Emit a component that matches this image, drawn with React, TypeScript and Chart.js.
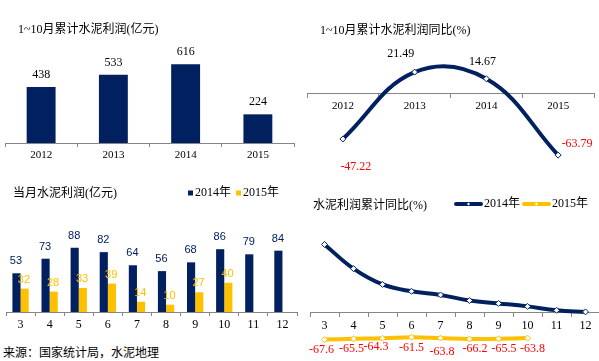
import React, { useEffect, useRef } from 'react';
import { Chart, registerables } from 'chart.js';

Chart.register(...registerables);

// ---------- data ----------
const years = ['2012', '2013', '2014', '2015'];
const cumProfit = [438, 533, 616, 224];
const cumProfitYoY = [-47.22, 21.49, 14.67, -63.79];

const months = ['3', '4', '5', '6', '7', '8', '9', '10', '11', '12'];
const seriesNames = ['2014年', '2015年'];
const monthly2014 = [53, 73, 88, 82, 64, 56, 68, 86, 79, 84];
const monthly2015 = [32, 28, 33, 39, 14, 10, 27, 40, null, null];
const cumYoY2014 = [168, 108, 69, 52, 43, 29, 22, 14.67, 5, 1];
const cumYoY2015 = [-67.6, -65.5, -64.3, -61.5, -63.8, -66.2, -65.5, -63.8, null, null];

const titleA = '1~10月累计水泥利润(亿元)';
const titleB = '1~10月累计水泥利润同比(%)';
const titleC = '当月水泥利润(亿元)';
const titleD = '水泥利润累计同比(%)';
const sourceText = '来源：国家统计局，水泥地理';

// ---------- styles ----------
const NAVY = '#002060';
const GOLD = '#FFC000';
const RED = '#FF0000';
const AXIS = '#868686';
const SERIF = "'Liberation Serif', 'Noto Sans CJK SC', serif";
const SANS = "'Liberation Sans', 'Noto Sans CJK SC', sans-serif";

type LabelSet = {
  datasetIndex: number;
  font: string;
  color: (v: number) => string;
  offset: (i: number) => [number, number];
  format?: (v: number) => string;
};

function makeValueLabels(sets: LabelSet[]) {
  return {
    id: 'valueLabels',
    afterDatasetsDraw(chart: any) {
      const ctx = chart.ctx;
      sets.forEach((s) => {
        const meta = chart.getDatasetMeta(s.datasetIndex);
        const ds = chart.data.datasets[s.datasetIndex];
        meta.data.forEach((el: any, i: number) => {
          const v = ds.data[i];
          if (v == null) return;
          const [dx, dy] = s.offset(i);
          ctx.save();
          ctx.font = s.font;
          ctx.fillStyle = s.color(v);
          ctx.textAlign = 'center';
          ctx.textBaseline = 'middle';
          ctx.fillText(s.format ? s.format(v) : String(v), el.x + dx, el.y + dy);
          ctx.restore();
        });
      });
    },
  };
}

function makeLegend(cfg: { x: number; y: number; kind: 'box' | 'line'; size: number; gap: number; itemGap: number }) {
  return {
    id: 'manualLegend',
    afterDraw(chart: any) {
      const ctx = chart.ctx;
      ctx.save();
      ctx.font = `12px ${SERIF}`;
      ctx.textBaseline = 'middle';
      ctx.textAlign = 'left';
      let x = cfg.x;
      const y = cfg.y;
      chart.data.datasets.forEach((ds: any) => {
        if (cfg.kind === 'box') {
          ctx.fillStyle = ds.backgroundColor;
          ctx.fillRect(x, y - cfg.size / 2, cfg.size, cfg.size);
          x += cfg.size + cfg.gap;
        } else {
          ctx.strokeStyle = ds.borderColor;
          ctx.lineWidth = 4;
          ctx.lineCap = 'round';
          ctx.beginPath();
          ctx.moveTo(x + 2, y);
          ctx.lineTo(x + cfg.size - 2, y);
          ctx.stroke();
          const cx = x + cfg.size / 2;
          ctx.fillStyle = '#fff';
          ctx.beginPath();
          ctx.moveTo(cx, y - 1.5);
          ctx.lineTo(cx + 1.5, y);
          ctx.lineTo(cx, y + 1.5);
          ctx.lineTo(cx - 1.5, y);
          ctx.closePath();
          ctx.fill();
          x += cfg.size + cfg.gap;
        }
        ctx.fillStyle = '#000';
        ctx.fillText(ds.label, x, y);
        x += ctx.measureText(ds.label).width + cfg.itemGap;
      });
      ctx.restore();
    },
  };
}

function xAxis(fontSize: number, height: number, position?: any) {
  const axis: any = {
    type: 'category',
    offset: true,
    grid: {
      display: true,
      offset: true,
      drawOnChartArea: false,
      drawTicks: true,
      tickLength: 4,
      color: AXIS,
      lineWidth: 1,
    },
    border: { display: true, color: AXIS, width: 1 },
    ticks: {
      color: '#000',
      font: { family: SERIF, size: fontSize },
      padding: 2,
      maxRotation: 0,
      autoSkip: false,
    },
    afterFit: (s: any) => {
      s.height = height;
    },
  };
  if (position) axis.position = position;
  return axis;
}

function ChartBox(props: { left: number; top: number; width: number; height: number; build: () => any }) {
  const ref = useRef<HTMLCanvasElement>(null);
  useEffect(() => {
    const chart = new Chart(ref.current as HTMLCanvasElement, props.build());
    return () => chart.destroy();
  }, []);
  return (
    <canvas
      ref={ref}
      width={props.width}
      height={props.height}
      style={{ position: 'absolute', left: props.left, top: props.top, width: props.width, height: props.height }}
    />
  );
}

const baseOptions = {
  responsive: false,
  maintainAspectRatio: false,
  animation: false,
  events: [],
  devicePixelRatio: 1,
};

function buildA() {
  return {
    type: 'bar',
    data: {
      labels: years,
      datasets: [
        {
          label: titleA,
          data: cumProfit,
          backgroundColor: NAVY,
          barPercentage: 0.4,
          categoryPercentage: 1,
        },
      ],
    },
    options: {
      ...baseOptions,
      layout: { padding: { left: 5, right: 6, top: 40, bottom: 17 } },
      scales: {
        x: xAxis(11, 20),
        y: { display: false, min: 0, max: 805 },
      },
      plugins: { legend: { display: false }, tooltip: { enabled: false } },
    },
    plugins: [
      makeValueLabels([
        { datasetIndex: 0, font: `12px ${SERIF}`, color: () => '#000', offset: () => [0, -12] },
      ]),
    ],
  };
}

const offsetsB: [number, number][] = [[13, 28], [-14, -18], [-4, -17], [19, -11]];

function buildB() {
  return {
    type: 'line',
    data: {
      labels: years,
      datasets: [
        {
          label: titleB,
          data: cumProfitYoY,
          borderColor: NAVY,
          borderWidth: 4,
          tension: 0.4,
          pointStyle: 'rectRot',
          pointRadius: 3,
          pointBackgroundColor: '#fff',
          pointBorderColor: NAVY,
          pointBorderWidth: 1,
          clip: false,
        },
      ],
    },
    options: {
      ...baseOptions,
      layout: { padding: { left: 7, right: 5, top: 40, bottom: 10 } },
      scales: {
        x: xAxis(11, 0, { y: 0 }),
        y: { display: false, min: -79.1, max: 54.5 },
      },
      plugins: { legend: { display: false }, tooltip: { enabled: false } },
    },
    plugins: [
      makeValueLabels([
        {
          datasetIndex: 0,
          font: `12px ${SERIF}`,
          color: (v) => (v < 0 ? RED : '#000'),
          offset: (i) => offsetsB[i],
          format: (v) => v.toFixed(2),
        },
      ]),
    ],
  };
}

function buildC() {
  return {
    type: 'bar',
    data: {
      labels: months,
      datasets: [
        { label: seriesNames[0], data: monthly2014, backgroundColor: NAVY, barPercentage: 1, categoryPercentage: 0.56 },
        { label: seriesNames[1], data: monthly2015, backgroundColor: GOLD, barPercentage: 1, categoryPercentage: 0.56 },
      ],
    },
    options: {
      ...baseOptions,
      layout: { padding: { left: 6, right: 3, top: 0, bottom: 8 } },
      scales: {
        x: xAxis(12, 20),
        y: { display: false, min: 0, max: 180.8 },
      },
      plugins: { legend: { display: false }, tooltip: { enabled: false } },
    },
    plugins: [
      makeValueLabels([
        { datasetIndex: 0, font: `11px ${SANS}`, color: () => NAVY, offset: () => [-0.5, -12] },
        { datasetIndex: 1, font: `11px ${SANS}`, color: () => GOLD, offset: () => [-0.7, -9] },
      ]),
      makeLegend({ x: 188, y: 13, kind: 'box', size: 5, gap: 2, itemGap: 5 }),
    ],
  };
}

const offsetsD: [number, number][] = [
  [-3, 10], [-2, 10.5], [-6.5, 9], [0, 11], [1.5, 14], [5.5, 10], [5.5, 10], [5, 11],
];

function buildD() {
  const lineStyle = (color: string) => ({
    borderColor: color,
    backgroundColor: color,
    borderWidth: 4,
    tension: 0.4,
    pointStyle: 'rectRot',
    pointRadius: 3,
    pointBackgroundColor: '#fff',
    pointBorderColor: color,
    pointBorderWidth: 1,
    clip: false,
  });
  return {
    type: 'line',
    data: {
      labels: months,
      datasets: [
        { label: seriesNames[0], data: cumYoY2014, ...lineStyle(NAVY) },
        { label: seriesNames[1], data: cumYoY2015, ...lineStyle(GOLD) },
      ],
    },
    options: {
      ...baseOptions,
      layout: { padding: { left: 10, right: 3, top: 30, bottom: 11 } },
      scales: {
        x: xAxis(12, 0, { y: 0 }),
        y: { display: false, min: -93.3, max: 253.2 },
      },
      plugins: { legend: { display: false }, tooltip: { enabled: false } },
    },
    plugins: [
      makeValueLabels([
        {
          datasetIndex: 1,
          font: `12px ${SERIF}`,
          color: () => RED,
          offset: (i) => offsetsD[i],
          format: (v) => v.toFixed(1),
        },
      ]),
      makeLegend({ x: 154, y: 24, kind: 'line', size: 29, gap: 1, itemGap: 2 }),
    ],
  };
}

function Text(props: { left: number; cy: number; text: string }) {
  return (
    <div
      style={{
        position: 'absolute',
        left: props.left,
        top: props.cy - 7,
        font: `12px ${SERIF}`,
        lineHeight: '14px',
        color: '#000',
        whiteSpace: 'nowrap',
      }}
    >
      {props.text}
    </div>
  );
}

export default function App() {
  return (
    <div
      style={{
        position: 'fixed',
        left: 0,
        top: 0,
        width: 599,
        height: 361,
        overflow: 'hidden',
        background: '#fff',
      }}
    >
      <ChartBox left={0} top={0} width={300} height={180} build={buildA} />
      <ChartBox left={300} top={0} width={299} height={180} build={buildB} />
      <ChartBox left={0} top={180} width={300} height={160} build={buildC} />
      <ChartBox left={300} top={180} width={305} height={181} build={buildD} />
      <Text left={18} cy={29} text={titleA} />
      <Text left={320} cy={30} text={titleB} />
      <Text left={13} cy={193} text={titleC} />
      <Text left={313} cy={205} text={titleD} />
      <Text left={3} cy={353} text={sourceText} />
    </div>
  );
}
